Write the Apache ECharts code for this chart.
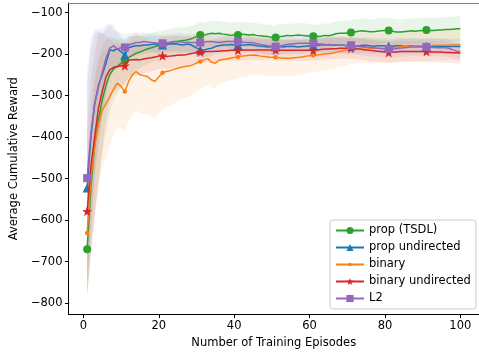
<!DOCTYPE html>
<html>
<head>
<meta charset="utf-8">
<script src="https://cdn.jsdelivr.net/npm/echarts@6/dist/echarts.min.js"></script>
<style>
  html, body { margin: 0; padding: 0; background: #ffffff; }
  #chart { width: 479px; height: 356px; }
</style>
</head>
<body>
<div id="chart"></div>
<script>
// Training episodes 1..100
const episodes = [];
for (let e = 1; e <= 100; e++) episodes.push(e);

const xTicks = [0, 20, 40, 60, 80, 100];
const yTicks = [-800, -700, -600, -500, -400, -300, -200, -100];

// Mean reward per episode
const propTSDL = [
  -670, -520, -420, -360, -310, -275, -250, -236, -230, -222,
  -216, -208, -203, -198, -195, -191, -188, -185, -182, -180,
  -178, -176, -172, -170, -170, -168, -167, -165, -162, -158,
  -154, -155, -152, -150, -151, -150, -152, -153, -155, -154,
  -154, -152, -153, -154, -153, -155, -156, -157, -158, -160,
  -160, -158, -157, -155, -156, -155, -154, -155, -156, -157,
  -157, -158, -157, -155, -156, -154, -151, -150, -150, -149,
  -148, -147, -145, -144, -145, -146, -146, -145, -144, -143,
  -143, -145, -147, -147, -146, -145, -144, -145, -144, -143,
  -142, -143, -143, -142, -142, -141, -141, -140, -139, -139
];
const propUndirected = [
  -523, -400, -320, -275, -250, -222, -190, -192, -187, -195,
  -202, -185, -182, -180, -180, -178, -178, -177, -176, -178,
  -178, -177, -176, -175, -176, -178, -177, -176, -180, -185,
  -190, -190, -188, -186, -182, -180, -178, -178, -177, -178,
  -178, -179, -178, -177, -178, -180, -181, -182, -183, -182,
  -183, -182, -183, -182, -181, -182, -183, -182, -181, -180,
  -180, -179, -178, -178, -177, -178, -178, -179, -179, -180,
  -181, -180, -180, -179, -179, -180, -181, -180, -180, -180,
  -181, -181, -180, -180, -181, -181, -180, -180, -181, -181,
  -181, -181, -181, -181, -181, -181, -182, -182, -182, -182
];
const binary = [
  -631, -500, -420, -370, -335, -320, -302, -285, -270, -278,
  -290, -266, -250, -242, -250, -252, -254, -262, -266, -255,
  -245, -242, -240, -237, -234, -232, -230, -229, -226, -222,
  -218, -214, -211, -220, -222, -215, -213, -212, -210, -208,
  -207, -205, -204, -203, -202, -203, -205, -206, -207, -208,
  -208, -209, -210, -210, -210, -209, -208, -207, -205, -204,
  -203, -202, -201, -200, -199, -198, -196, -194, -192, -190,
  -187, -186, -186, -185, -185, -186, -186, -186, -186, -186,
  -186, -185, -184, -183, -182, -182, -181, -180, -180, -180,
  -180, -180, -179, -179, -179, -179, -178, -178, -178, -178
];
const binaryUndirected = [
  -579, -470, -400, -330, -290, -255, -238, -232, -230, -229,
  -228, -215, -214, -213, -214, -212, -210, -209, -207, -205,
  -204, -206, -205, -204, -203, -202, -202, -200, -198, -196,
  -195, -195, -194, -194, -193, -193, -192, -192, -191, -191,
  -191, -191, -190, -190, -190, -190, -190, -190, -190, -190,
  -190, -191, -191, -191, -191, -191, -191, -191, -191, -191,
  -191, -190, -189, -188, -188, -187, -187, -186, -186, -186,
  -186, -187, -188, -189, -190, -191, -192, -193, -194, -195,
  -196, -195, -195, -194, -194, -194, -194, -194, -194, -194,
  -194, -195, -195, -195, -195, -196, -196, -197, -197, -198
];
const l2 = [
  -499, -390, -320, -280, -245, -210, -186, -180, -188, -185,
  -184, -178, -175, -172, -172, -170, -171, -172, -173, -174,
  -174, -173, -172, -171, -170, -171, -172, -172, -172, -172,
  -172, -171, -170, -170, -171, -172, -171, -170, -170, -170,
  -170, -171, -172, -172, -173, -175, -177, -178, -180, -181,
  -182, -181, -179, -177, -176, -175, -174, -174, -174, -174,
  -174, -175, -176, -177, -178, -178, -179, -179, -179, -180,
  -179, -180, -181, -182, -183, -184, -185, -186, -187, -188,
  -188, -188, -187, -186, -185, -184, -183, -183, -183, -183,
  -183, -184, -184, -185, -185, -185, -186, -190, -193, -194
];

// Standard deviation per episode (shaded bands)
const propTSDLStd = [
  122, 150, 160, 150, 130, 110, 90, 75, 65, 58,
  52, 48, 45, 42, 40, 38, 37, 36, 35, 35,
  34, 34, 33, 33, 33, 32, 32, 32, 31, 31,
  31, 30, 30, 31, 30, 30, 29, 30, 30, 31,
  30, 30, 29, 29, 30, 29, 29, 28, 29, 29,
  29, 30, 29, 29, 28, 29, 29, 29, 30, 29,
  29, 28, 29, 29, 29, 30, 29, 30, 30, 30,
  30, 31, 30, 30, 31, 30, 30, 31, 30, 30,
  30, 31, 31, 30, 30, 31, 30, 30, 31, 30,
  30, 31, 30, 30, 30, 31, 30, 30, 30, 30
];
const propUndirectedStd = [
  250, 215, 170, 130, 100, 80, 60, 50, 42, 36,
  32, 28, 26, 24, 22, 21, 20, 20, 20, 20,
  20, 19, 19, 19, 20, 20, 19, 19, 19, 20,
  20, 19, 19, 19, 18, 18, 18, 19, 19, 19,
  19, 18, 18, 18, 18, 18, 19, 19, 19, 19,
  19, 18, 18, 18, 18, 19, 19, 18, 18, 18,
  18, 18, 18, 18, 19, 19, 19, 18, 18, 18,
  18, 18, 18, 19, 19, 19, 18, 18, 18, 18,
  18, 18, 19, 19, 19, 18, 18, 18, 18, 18,
  18, 18, 19, 19, 19, 18, 18, 18, 18, 18
];
const binaryStd = [
  160, 170, 160, 150, 140, 130, 120, 110, 105, 100,
  98, 96, 95, 94, 93, 92, 91, 90, 90, 89,
  88, 86, 84, 82, 80, 78, 76, 74, 72, 70,
  68, 66, 64, 62, 60, 58, 56, 55, 54, 53,
  52, 51, 50, 49, 48, 47, 46, 46, 45, 45,
  45, 44, 44, 43, 43, 42, 42, 41, 41, 40,
  40, 40, 39, 39, 39, 38, 38, 38, 38, 37,
  37, 37, 37, 37, 37, 36, 36, 36, 36, 36,
  36, 36, 36, 36, 36, 36, 36, 36, 36, 36,
  36, 36, 36, 36, 36, 36, 36, 36, 36, 36
];
const binaryUndirectedStd = [
  200, 210, 200, 180, 140, 100, 75, 60, 55, 50,
  45, 42, 40, 38, 36, 35, 34, 33, 32, 31,
  30, 30, 29, 29, 28, 28, 28, 27, 27, 27,
  27, 26, 26, 26, 26, 26, 25, 25, 25, 25,
  25, 25, 25, 25, 25, 25, 25, 25, 25, 25,
  25, 25, 25, 25, 25, 25, 25, 25, 25, 25,
  25, 25, 25, 25, 25, 25, 25, 25, 25, 25,
  25, 25, 25, 25, 25, 25, 25, 25, 25, 25,
  25, 25, 25, 25, 25, 25, 25, 25, 25, 25,
  25, 25, 25, 25, 25, 25, 25, 25, 25, 25
];
const l2Std = [
  260, 230, 180, 140, 105, 80, 60, 50, 42, 36,
  32, 28, 26, 24, 23, 22, 21, 21, 21, 21,
  21, 21, 21, 21, 21, 21, 21, 21, 21, 21,
  21, 21, 21, 21, 21, 21, 21, 21, 21, 21,
  21, 21, 21, 21, 21, 21, 21, 21, 21, 21,
  21, 21, 21, 21, 21, 21, 21, 21, 21, 21,
  21, 21, 21, 21, 21, 21, 21, 21, 21, 21,
  21, 21, 21, 21, 21, 21, 21, 21, 21, 21,
  21, 21, 21, 21, 21, 21, 21, 21, 21, 21,
  21, 21, 21, 21, 21, 21, 21, 21, 21, 21
];

const FONT = 'DejaVu Sans';
const STAR = 'path://M0,-10L2.35,-3.24L9.51,-3.09L3.8,1.24L5.88,8.09L0,4L-5.88,8.09L-3.8,1.24L-9.51,-3.09L-2.35,-3.24Z';
// small point marker: a dot centred in a padded 10x10 box
const DOT = 'path://M0,0M10,10M5,2.5A2.5,2.5,0,1,1,5,7.5A2.5,2.5,0,1,1,5,2.5Z';

const curves = [
  { name: 'prop (TSDL)', mean: propTSDL, std: propTSDLStd, color: '#2ca02c', symbol: 'circle', size: 8 },
  { name: 'prop undirected', mean: propUndirected, std: propUndirectedStd, color: '#1f77b4', symbol: 'triangle', size: 9 },
  { name: 'binary', mean: binary, std: binaryStd, color: '#ff7f0e', symbol: DOT, size: 9 },
  { name: 'binary undirected', mean: binaryUndirected, std: binaryUndirectedStd, color: '#d62728', symbol: STAR, size: 10 },
  { name: 'L2', mean: l2, std: l2Std, color: '#9467bd', symbol: 'rect', size: 8 }
];

function withAlpha(hex, a) {
  const n = parseInt(hex.slice(1), 16);
  return 'rgba(' + (n >> 16) + ',' + ((n >> 8) & 255) + ',' + (n & 255) + ',' + a + ')';
}

const series = [];
// shaded mean ± std bands, one polygon per curve
curves.forEach((c) => {
  const rows = c.mean.map((v, i) => [episodes[i], v - c.std[i], v + c.std[i]]);
  series.push({
    type: 'custom', silent: true, z: 1, clip: true,
    encode: { x: 0, y: [1, 2] },
    data: rows,
    renderItem: (params, api) => {
      if (params.dataIndex !== 0) return null;
      const pts = [];
      for (let i = 0; i < rows.length; i++) pts.push(api.coord([rows[i][0], rows[i][2]]));
      for (let i = rows.length - 1; i >= 0; i--) pts.push(api.coord([rows[i][0], rows[i][1]]));
      return {
        type: 'polygon',
        shape: { points: pts },
        style: { fill: withAlpha(c.color, 0.1), stroke: 'none' }
      };
    }
  });
});
curves.forEach((c, k) => {
  series.push({
    type: 'line', name: c.name, silent: true, z: 3 + k,
    symbol: c.symbol, symbolSize: c.size, showAllSymbol: true,
    color: c.color,
    lineStyle: { width: 1.5, color: c.color },
    itemStyle: { color: c.color },
    data: c.mean.map((v, i) => (i % 10 === 0)
      ? [episodes[i], v]
      : { value: [episodes[i], v], symbol: 'none' })
  });
});

const chart = echarts.init(document.getElementById('chart'), null, { renderer: 'canvas' });
chart.setOption({
  animation: false,
  backgroundColor: '#ffffff',
  textStyle: { fontFamily: FONT },
  grid: { left: 64, top: 3, width: 418, height: 311.5, containLabel: false },
  legend: {
    data: curves.map(c => c.name),
    orient: 'vertical', left: 330, top: 220,
    itemWidth: 28, itemHeight: 9, itemGap: 4,
    padding: [4, 5, 4, 5],
    backgroundColor: 'rgba(255,255,255,0.8)',
    borderColor: '#cccccc', borderWidth: 1, borderRadius: 3,
    textStyle: { fontFamily: FONT, fontSize: 11.5, color: '#000000', lineHeight: 13 },
    selectedMode: false
  },
  xAxis: [{
    type: 'value', min: -3.95, max: 104.95,
    name: 'Number of Training Episodes', nameLocation: 'middle', nameGap: 22,
    nameTextStyle: { fontFamily: FONT, fontSize: 11.5, color: '#000000' },
    axisLine: { show: true, onZero: false, lineStyle: { color: '#000000', width: 1 } },
    axisTick: { show: true, length: 3.5, customValues: xTicks, lineStyle: { color: '#000000' } },
    axisLabel: { customValues: xTicks, margin: 6, fontFamily: FONT, fontSize: 11.5, color: '#000000' },
    splitLine: { show: false }
  }, {
    type: 'value', position: 'top', min: -3.95, max: 104.95,
    axisLine: { show: true, onZero: false, lineStyle: { color: '#808080', width: 1 } },
    axisTick: { show: false }, axisLabel: { show: false }, splitLine: { show: false }
  }],
  yAxis: {
    type: 'value', min: -827.5, max: -77,
    name: 'Average Cumulative Reward', nameLocation: 'middle', nameGap: 46,
    nameTextStyle: { fontFamily: FONT, fontSize: 11.5, color: '#000000' },
    axisLine: { show: true, onZero: false, lineStyle: { color: '#000000', width: 1 } },
    axisTick: { show: true, length: 3.5, customValues: yTicks, lineStyle: { color: '#000000' } },
    axisLabel: {
      customValues: yTicks, margin: 6, fontFamily: FONT, fontSize: 11.5, color: '#000000',
      formatter: v => String(v).replace('-', '\u2212')
    },
    splitLine: { show: false }
  },
  series: series
});
</script>
</body>
</html>
